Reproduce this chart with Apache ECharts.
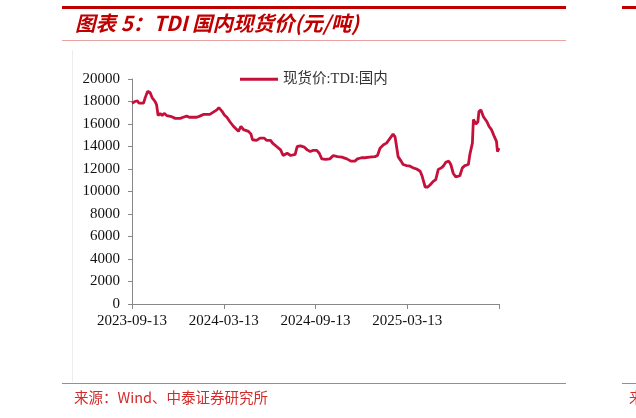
<!DOCTYPE html>
<html>
<head>
<meta charset="utf-8">
<script src="https://cdn.jsdelivr.net/npm/echarts@6/dist/echarts.min.js"></script>
<style>
  html, body { margin: 0; padding: 0; background: #fff; }
  #main { width: 636px; height: 418px; }
</style>
</head>
<body>
<div id="main"></div>
<script>
// day offsets from 2023-09-13
var days = [0, 6, 11, 14, 23, 26, 31, 36, 40, 46,
  49, 52, 56, 60, 64, 69, 72, 79, 86, 96,
  102, 109, 114, 129, 135, 142, 155, 162, 169, 173,
  179, 184, 189, 195, 202, 212, 217, 222, 232, 237,
  240, 248, 255, 263, 268, 276, 280, 288, 296, 301,
  309, 316, 325, 329, 336, 343, 349, 355, 360, 368,
  373, 378, 386, 394, 401, 409, 418, 428, 436, 444,
  449, 457, 464, 473, 484, 489, 494, 501, 507, 510,
  516, 520, 524, 527, 530, 536, 540, 547, 554, 560,
  567, 574, 578, 584, 589, 594, 600, 605, 610, 616,
  620, 625, 631, 635, 640, 645, 653, 658, 663, 670,
  673, 678, 680, 685, 689, 691, 695, 700, 707, 711,
  716, 722, 726, 728, 731];

// 现货价:TDI:国内 (元/吨)
var tdiPrice = [17850, 18000, 18050, 17850, 17850, 18300, 18900, 18800, 18350, 18000,
  17700, 16750, 16950, 16750, 16950, 16750, 16850, 16650, 16500, 16500,
  16600, 16700, 16600, 16600, 16700, 16850, 16850, 17050, 17250, 17450,
  17150, 16800, 16600, 16200, 15800, 15350, 15800, 15500, 15350, 15100,
  14600, 14550, 14750, 14750, 14550, 14550, 14300, 14000, 13700, 13200,
  13400, 13200, 13300, 14000, 14050, 13950, 13700, 13550, 13650, 13650,
  13400, 12900, 12850, 12900, 13200, 13100, 13050, 12900, 12700, 12700,
  12900, 13000, 13000, 13050, 13100, 13200, 13850, 14150, 14300, 14450,
  14850, 15100, 14850, 14000, 13100, 12700, 12400, 12300, 12250, 12100,
  12000, 11800, 11350, 10400, 10400, 10600, 10900, 11050, 11950, 12100,
  12250, 12600, 12700, 12400, 11600, 11300, 11400, 12100, 12300, 12400,
  13300, 14300, 16400, 16000, 16200, 17100, 17250, 16650, 16200, 15800,
  15500, 14850, 14450, 13550, 13850];

var tickLabels = ['2023-09-13', '2024-03-13', '2024-09-13', '2025-03-13', ''];
var tickStep = 182.75;

var chart = echarts.init(document.getElementById('main'), null, { renderer: 'canvas' });

var red = '#C00000';
var serif = "'Liberation Serif', 'Noto Sans CJK SC'";

var option = {
  backgroundColor: '#fff',
  animation: false,
  grid: { left: 132, right: 137, top: 79, bottom: 114 },
  legend: {
    data: ['现货价:TDI:国内'],
    left: 235,
    top: 67,
    icon: 'rect',
    itemWidth: 38,
    itemHeight: 3,
    itemGap: 5,
    textStyle: { fontFamily: serif, fontSize: 14.5, color: '#333' }
  },
  xAxis: {
    type: 'value',
    min: 0,
    max: 731,
    interval: tickStep,
    splitLine: { show: false },
    axisLine: { lineStyle: { color: '#888', width: 1 } },
    axisTick: { inside: false, length: 5, lineStyle: { color: '#888' } },
    axisLabel: {
      margin: 10,
      fontFamily: 'Liberation Serif',
      fontSize: 15,
      color: '#111',
      showMaxLabel: true,
      formatter: function (v) {
        return tickLabels[Math.round(v / tickStep)] || '';
      }
    }
  },
  yAxis: {
    type: 'value',
    min: 0,
    max: 20000,
    interval: 2000,
    splitLine: { show: false },
    axisLine: { show: true, lineStyle: { color: '#888', width: 1 } },
    axisTick: { show: true, length: 4, lineStyle: { color: '#888' } },
    axisLabel: {
      margin: 12,
      fontFamily: 'Liberation Serif',
      fontSize: 15,
      color: '#111',
      formatter: function (v) { return String(v); }
    }
  },
  series: [{
    name: '现货价:TDI:国内',
    type: 'line',
    data: days.map(function (d, i) { return [d, tdiPrice[i]]; }),
    symbol: 'none',
    itemStyle: { color: '#C4103A' },
    lineStyle: { color: '#C4103A', width: 2.8 }
  }],
  graphic: [
    // top thick rule
    { type: 'rect', left: 62, top: 6, shape: { width: 504, height: 3 }, style: { fill: red } },
    { type: 'rect', left: 622, top: 6, shape: { width: 14, height: 3 }, style: { fill: red } },
    {
      type: 'text', left: 75, top: 13,
      style: {
        text: '图表 5：TDI 国内现货价(元/吨)',
        fill: red,
        font: 'italic bold 20.5px "Noto Sans CJK SC"'
      }
    },
    // thin rule under title
    { type: 'rect', left: 62, top: 40, shape: { width: 504, height: 1 }, style: { fill: '#E9A3A3' } },
    // faint frame line on the left
    { type: 'rect', left: 72, top: 50, shape: { width: 1, height: 332 }, style: { fill: '#EDEDED' } },
    // bottom rule and source
    { type: 'rect', left: 62, top: 383, shape: { width: 504, height: 1 }, style: { fill: '#E07070' } },
    { type: 'rect', left: 622, top: 383, shape: { width: 14, height: 1 }, style: { fill: '#E07070' } },
    {
      type: 'text', left: 74, top: 390,
      style: {
        text: '来源：Wind、中泰证券研究所',
        fill: '#D42A2A',
        font: '14.5px "Noto Sans CJK SC"'
      }
    },
    {
      type: 'text', left: 629, top: 390,
      style: { text: '来', fill: '#D42A2A', font: '14.5px "Noto Sans CJK SC"' }
    }
  ]
};

chart.setOption(option);
</script>
</body>
</html>
